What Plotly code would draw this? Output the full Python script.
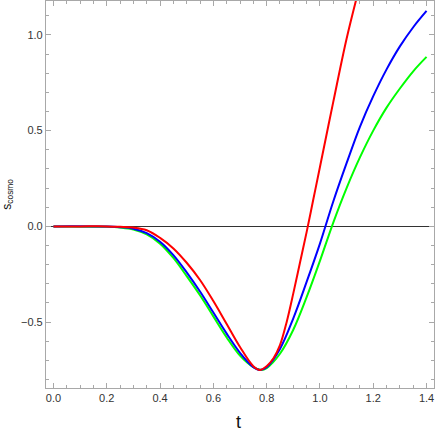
"""Frame plot of s_cosmo against t for three model curves"""
import plotly.graph_objects as go

# Sample points
t_red = [0.0, 0.1, 0.2, 0.25, 0.3, 0.35, 0.4, 0.45, 0.5, 0.55, 0.6, 0.65, 0.7,
         0.75, 0.775, 0.8, 0.825, 0.85, 0.875, 0.9, 0.925, 0.95, 0.975, 1.0,
         1.05, 1.1, 1.15]
s_red = [0.0, 0.0, 0.0, -0.002, -0.006, -0.02, -0.06, -0.115, -0.19, -0.28,
         -0.39, -0.51, -0.63, -0.73, -0.75, -0.73, -0.69, -0.62, -0.5, -0.35,
         -0.19, -0.03, 0.14, 0.31, 0.65, 0.98, 1.26]

t_blue = [0.0, 0.2, 0.25, 0.3, 0.35, 0.4, 0.45, 0.5, 0.55, 0.6, 0.65, 0.7,
          0.75, 0.775, 0.8, 0.85, 0.9, 0.95, 1.0, 1.05, 1.1, 1.15, 1.2, 1.25,
          1.3, 1.35, 1.4]
s_blue = [0.0, -0.001, -0.004, -0.012, -0.035, -0.08, -0.15, -0.24, -0.34,
          -0.45, -0.56, -0.66, -0.735, -0.75, -0.735, -0.64, -0.48, -0.29,
          -0.09, 0.13, 0.33, 0.52, 0.68, 0.82, 0.94, 1.04, 1.125]

t_green = [0.0, 0.2, 0.25, 0.3, 0.35, 0.4, 0.45, 0.5, 0.55, 0.6, 0.65, 0.7,
           0.75, 0.78, 0.8, 0.85, 0.9, 0.95, 1.0, 1.05, 1.1, 1.15, 1.2, 1.25,
           1.3, 1.35, 1.4]
s_green = [0.0, -0.002, -0.006, -0.016, -0.042, -0.09, -0.165, -0.26, -0.36,
           -0.47, -0.58, -0.675, -0.735, -0.75, -0.74, -0.665, -0.54, -0.37,
           -0.18, 0.02, 0.2, 0.36, 0.5, 0.62, 0.72, 0.81, 0.885]

x_ticks = [0.0, 0.2, 0.4, 0.6, 0.8, 1.0, 1.2, 1.4]
y_ticks = [-0.5, 0.0, 0.5, 1.0]

FRAME = '#a8a8a8'
FONT = 'Liberation Sans, Arial, sans-serif'


def frame_axis(tickvals, minor_step, rng):
    """Mathematica style frame axis: inward ticks on both sides"""
    return dict(
        range=rng,
        automargin=False,
        showgrid=False,
        showline=True,
        linecolor=FRAME,
        linewidth=1.2,
        mirror='ticks',
        ticks='inside',
        ticklen=5,
        tickwidth=1,
        tickcolor=FRAME,
        tickvals=tickvals,
        ticktext=[f'{v:.1f}'.replace('-', '\u2212') for v in tickvals],
        tickfont=dict(size=11, color='#333333', family=FONT),
        minor=dict(ticks='inside', ticklen=3, tickcolor=FRAME,
                   dtick=minor_step, tick0=0, showgrid=False),
    )


fig = go.Figure()

for t, s, color in [(t_green, s_green, '#00ff00'),
                    (t_blue, s_blue, '#0000ff'),
                    (t_red, s_red, '#ff0000')]:
    fig.add_trace(go.Scatter(
        x=t, y=s, mode='lines',
        line=dict(color=color, width=2, shape='spline', smoothing=1),
        showlegend=False,
        hoverinfo='skip',
    ))

yaxis = frame_axis(y_ticks, 0.1, [-0.844, 1.177])
yaxis.update(zeroline=True, zerolinecolor='#333333', zerolinewidth=1)
xaxis = frame_axis(x_ticks, 0.05, [-0.028, 1.428])
xaxis.update(zeroline=False)

fig.update_layout(
    width=436,
    height=431,
    autosize=False,
    margin=dict(l=46, r=2, t=1, b=43, autoexpand=False),
    plot_bgcolor='white',
    paper_bgcolor='white',
    xaxis=xaxis,
    yaxis=yaxis,
    annotations=[
        dict(text='t', xref='paper', yref='paper', x=0.497, y=-0.088,
             xanchor='center', yanchor='middle', showarrow=False,
             font=dict(size=18, color='#111111', family=FONT)),
        dict(text='s<sub>cosmo</sub>', xref='paper', yref='paper',
             x=-0.1, y=0.5, xanchor='center', yanchor='middle',
             textangle=-90, showarrow=False,
             font=dict(size=12, color='#111111', family=FONT)),
    ],
)

# drop the browser's default 8px body margin so the figure sits at 0,0
fig.write_html("out.html", config={'displayModeBar': False},
               post_script="document.body.style.margin = '0';")
